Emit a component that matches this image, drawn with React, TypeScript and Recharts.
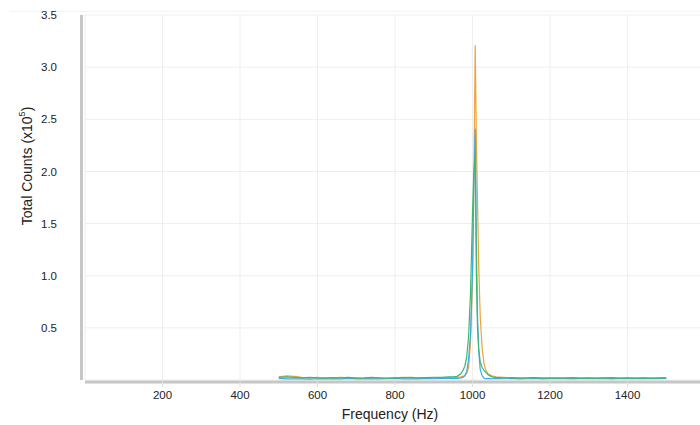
import React from 'react';
import { LineChart, Line, XAxis, YAxis, CartesianGrid, ReferenceLine } from 'recharts';

const frequencies = [
  500, 520, 540, 560, 580, 600, 620, 640, 660, 680, 700, 720, 740, 760, 780, 800, 820, 840, 860, 880, 900, 920, 940,
  950, 960, 970, 975, 980, 985, 990, 995, 1000, 1003, 1007, 1010, 1013, 1016, 1020, 1025, 1030, 1035, 1040, 1050, 1060,
  1080, 1100, 1120, 1140, 1160, 1180, 1200, 1220, 1240, 1260, 1280, 1300, 1320, 1340, 1360, 1380, 1400, 1420, 1440, 1460, 1480, 1500,
];

const orangeCounts = [
  0.03, 0.04, 0.035, 0.025, 0.02, 0.025, 0.02, 0.02, 0.025, 0.02, 0.02, 0.015, 0.02, 0.02, 0.015, 0.02, 0.025, 0.02, 0.02, 0.015, 0.02, 0.02, 0.025,
  0.02, 0.025, 0.03, 0.035, 0.04, 0.06, 0.12, 0.38, 0.95, 1.7, 3.21, 2.3, 1.7, 1.1, 0.6, 0.3, 0.15, 0.09, 0.06, 0.04, 0.03,
  0.025, 0.02, 0.02, 0.015, 0.02, 0.02, 0.015, 0.02, 0.015, 0.02, 0.015, 0.02, 0.015, 0.02, 0.015, 0.015, 0.02, 0.015, 0.02, 0.015, 0.02, 0.02,
];

const blueCounts = [
  0.015, 0.01, 0.012, 0.01, 0.008, 0.012, 0.01, 0.012, 0.01, 0.015, 0.01, 0.012, 0.01, 0.01, 0.012, 0.015, 0.01, 0.012, 0.01, 0.015, 0.012, 0.015, 0.015,
  0.015, 0.015, 0.02, 0.025, 0.04, 0.08, 0.2, 0.45, 1.05, 1.75, 2.41, 1.3, 0.6, 0.28, 0.1, 0.04, 0.015, 0.012, 0.015, 0.012, 0.015,
  0.012, 0.015, 0.01, 0.012, 0.015, 0.01, 0.012, 0.015, 0.012, 0.01, 0.015, 0.012, 0.015, 0.012, 0.01, 0.015, 0.012, 0.015, 0.012, 0.015, 0.012, 0.015,
];

const greenCounts = [
  0.025, 0.03, 0.025, 0.02, 0.025, 0.02, 0.018, 0.022, 0.02, 0.025, 0.018, 0.02, 0.025, 0.02, 0.018, 0.02, 0.022, 0.025, 0.02, 0.022, 0.025, 0.025, 0.03,
  0.03, 0.035, 0.06, 0.09, 0.13, 0.22, 0.42, 0.85, 1.6, 1.95, 2.17, 1.0, 0.5, 0.3, 0.17, 0.12, 0.09, 0.07, 0.05, 0.03, 0.025,
  0.02, 0.022, 0.018, 0.02, 0.022, 0.018, 0.02, 0.018, 0.02, 0.022, 0.018, 0.02, 0.018, 0.02, 0.022, 0.018, 0.02, 0.018, 0.02, 0.018, 0.02, 0.02,
];

const xTicks = [200, 400, 600, 800, 1000, 1200, 1400];
const yTicks = [0.5, 1.0, 1.5, 2.0, 2.5, 3.0, 3.5];

const data = frequencies.map((f, i) => ({
  freq: f,
  orange: orangeCounts[i],
  blue: blueCounts[i],
  green: greenCounts[i],
}));

const FONT = '"Liberation Sans", Arial, Helvetica, sans-serif';

const XTitle = () => (
  <text x={390} y={419} textAnchor="middle" fontSize={14} fontFamily={FONT} fill="#222">
    Frequency (Hz)
  </text>
);

const YTitle = () => (
  <text
    x={27}
    y={166}
    transform="rotate(-90 27 166)"
    textAnchor="middle"
    dominantBaseline="central"
    fontSize={14}
    fontFamily={FONT}
    fill="#222"
  >
    Total Counts (x10
    <tspan dy={-5} fontSize={9}>5</tspan>
    <tspan dy={5}>)</tspan>
  </text>
);

export default function App() {
  return (
    <div
      style={{
        position: 'absolute',
        left: 0,
        top: 0,
        width: 700,
        height: 425,
        overflow: 'hidden',
        background: '#fff',
      }}
    >
      <div
        style={{
          position: 'absolute',
          left: 10,
          top: 11,
          width: 690,
          height: 0,
          borderTop: '1px solid #f4f4f4',
        }}
      />
      <LineChart
        width={720}
        height={425}
        data={data}
        margin={{ top: 15, right: 15, bottom: 15, left: 0 }}
        style={{ position: 'absolute', left: 0, top: 0 }}
      >
        <CartesianGrid stroke="#eeeeee" strokeWidth={1} />
        <XAxis
          dataKey="freq"
          type="number"
          domain={[0, 1600]}
          ticks={xTicks}
          allowDataOverflow
          axisLine={false}
          tickLine={{ stroke: '#dddddd' }}
          tickSize={7}
          tickMargin={4}
          height={30}
          tick={{ fontSize: 11.5, fill: '#222', fontFamily: FONT }}
          label={XTitle}
        />
        <YAxis
          type="number"
          domain={[0, 3.5]}
          ticks={yTicks}
          allowDataOverflow
          axisLine={false}
          tickLine={false}
          tickSize={0}
          tickMargin={28}
          width={85}
          tickFormatter={(v: number) => v.toFixed(1)}
          tick={{ fontSize: 11.5, fill: '#222', fontFamily: FONT }}
          label={YTitle}
        />
        <ReferenceLine y={-0.02} stroke="#c6c6c6" strokeWidth={3} ifOverflow="visible" />
        <ReferenceLine x={-9} stroke="#c6c6c6" strokeWidth={3} ifOverflow="visible" />
        <Line
          type="linear"
          dataKey="orange"
          stroke="#F0A33A"
          strokeWidth={1.2}
          dot={false}
          isAnimationActive={false}
        />
        <Line
          type="linear"
          dataKey="blue"
          stroke="#3BABE3"
          strokeWidth={1.2}
          dot={false}
          isAnimationActive={false}
        />
        <Line
          type="linear"
          dataKey="green"
          stroke="#3DB870"
          strokeWidth={1.2}
          dot={false}
          isAnimationActive={false}
        />
      </LineChart>
    </div>
  );
}
